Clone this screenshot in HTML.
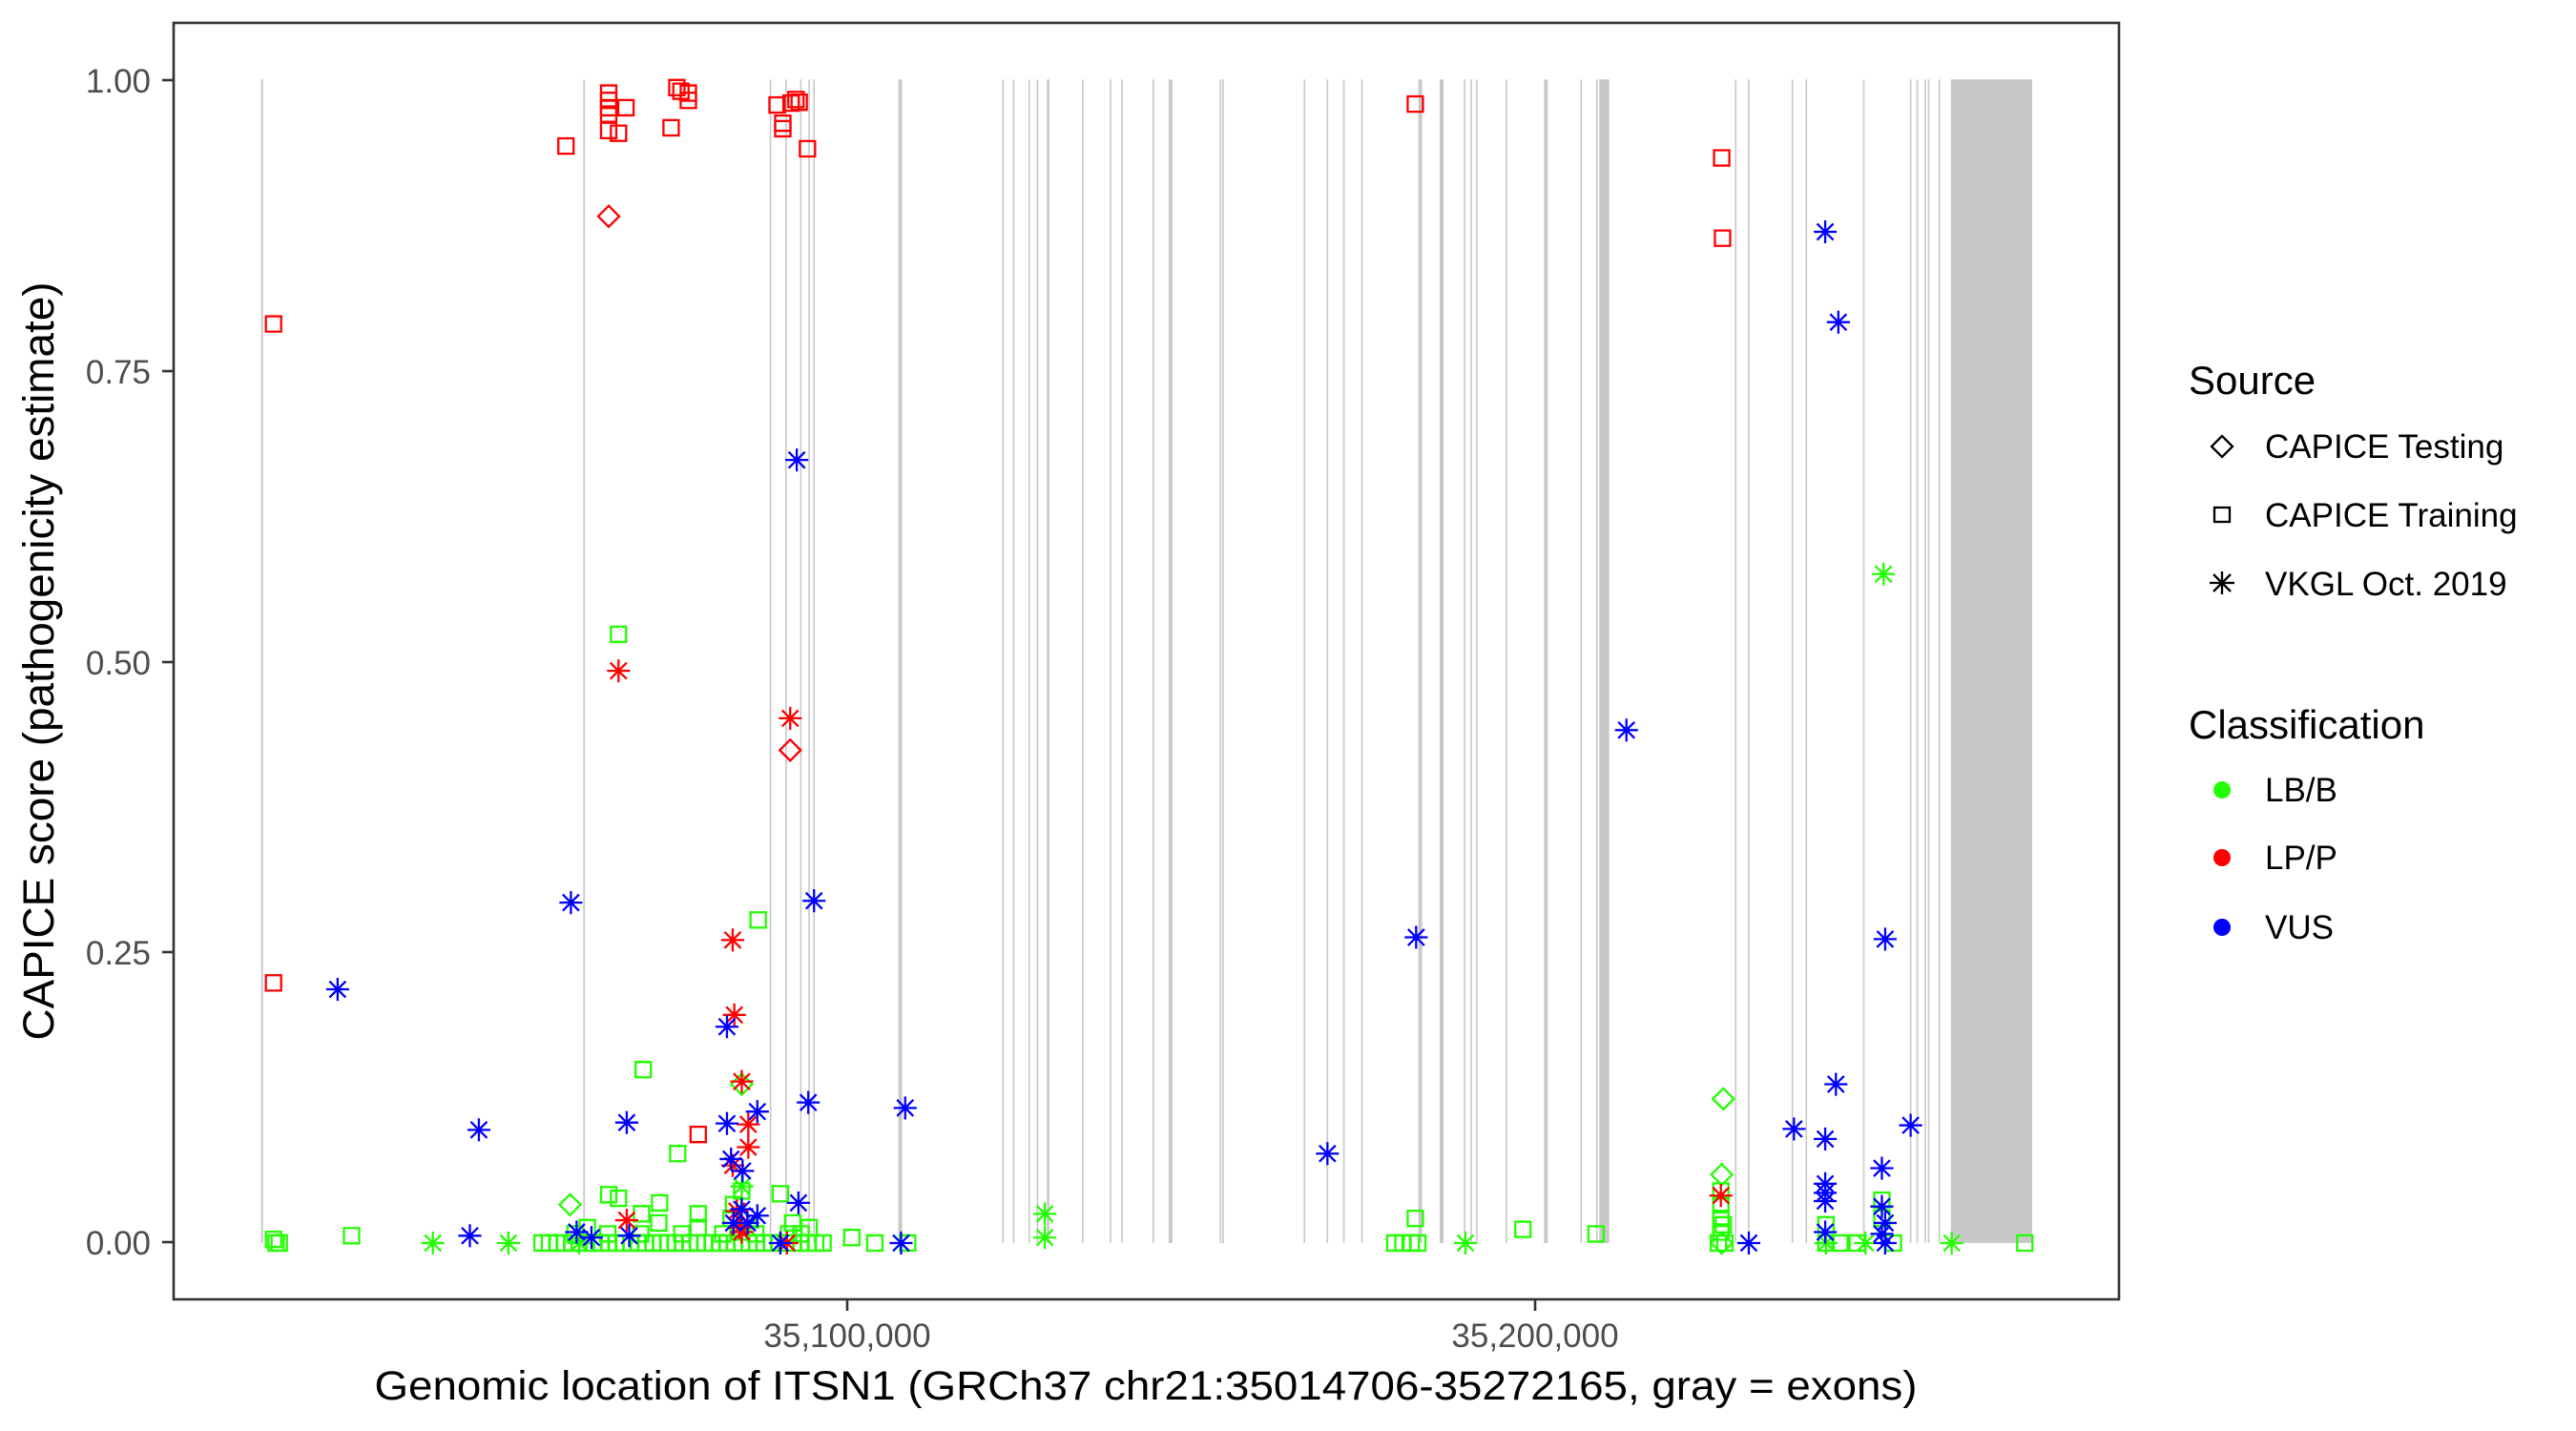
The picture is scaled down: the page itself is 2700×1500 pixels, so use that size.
<!DOCTYPE html>
<html><head><meta charset="utf-8"><style>
html,body{margin:0;padding:0;background:#fff}
svg{display:block}
text{font-family:"Liberation Sans",Arial,sans-serif}
</style></head><body>
<svg width="2700" height="1500" viewBox="0 0 2700 1500" xmlns="http://www.w3.org/2000/svg">
<defs>
<path id="s" d="M-9.3,-8.4h18.6v16.8h-18.6z" vector-effect="non-scaling-stroke"/>
<path id="a" d="M-14,0H14M0,-12.6V12.6M-9.9,-8.9L9.9,8.9M-9.9,8.9L9.9,-8.9" vector-effect="non-scaling-stroke"/>
<path id="d" d="M0,-11.5L12.8,0L0,11.5L-12.8,0Z" vector-effect="non-scaling-stroke"/>
</defs>
<rect width="2700" height="1500" fill="#fff"/>

<g transform="scale(0.86096,0.95666)">
<g stroke="#c8c8c8" stroke-width="1.6">
<line x1="319" y1="87" x2="319" y2="1362" stroke-width="2.2" vector-effect="non-scaling-stroke"/>
<line x1="711" y1="87" x2="711" y2="1362" vector-effect="non-scaling-stroke"/>
<line x1="938" y1="87" x2="938" y2="1362" vector-effect="non-scaling-stroke"/>
<line x1="957" y1="87" x2="957" y2="1362" vector-effect="non-scaling-stroke"/>
<line x1="975" y1="87" x2="975" y2="1362" vector-effect="non-scaling-stroke"/>
<line x1="985" y1="87" x2="985" y2="1362" vector-effect="non-scaling-stroke"/>
<line x1="991" y1="87" x2="991" y2="1362" vector-effect="non-scaling-stroke"/>
<line x1="1096" y1="87" x2="1096" y2="1362" stroke-width="4" vector-effect="non-scaling-stroke"/>
<line x1="1221" y1="87" x2="1221" y2="1362" vector-effect="non-scaling-stroke"/>
<line x1="1234" y1="87" x2="1234" y2="1362" vector-effect="non-scaling-stroke"/>
<line x1="1253" y1="87" x2="1253" y2="1362" vector-effect="non-scaling-stroke"/>
<line x1="1263" y1="87" x2="1263" y2="1362" vector-effect="non-scaling-stroke"/>
<line x1="1276" y1="87" x2="1276" y2="1362" stroke-width="2.6" vector-effect="non-scaling-stroke"/>
<line x1="1318" y1="87" x2="1318" y2="1362" vector-effect="non-scaling-stroke"/>
<line x1="1352" y1="87" x2="1352" y2="1362" vector-effect="non-scaling-stroke"/>
<line x1="1366" y1="87" x2="1366" y2="1362" vector-effect="non-scaling-stroke"/>
<line x1="1404" y1="87" x2="1404" y2="1362" vector-effect="non-scaling-stroke"/>
<line x1="1425" y1="87" x2="1425" y2="1362" stroke-width="4" vector-effect="non-scaling-stroke"/>
<line x1="1486" y1="87" x2="1486" y2="1362" vector-effect="non-scaling-stroke"/>
<line x1="1489" y1="87" x2="1489" y2="1362" vector-effect="non-scaling-stroke"/>
</g>
<g fill="none" stroke-width="2.3">
<g stroke="#22ff00">
<use href="#s" x="333" y="1358"/><use href="#s" x="340" y="1362"/><use href="#s" x="336" y="1362"/>
<use href="#s" x="428" y="1354"/><use href="#s" x="753" y="695"/><use href="#s" x="923" y="1008"/>
<use href="#s" x="783" y="1172"/><use href="#s" x="825" y="1264"/><use href="#s" x="741" y="1309"/>
<use href="#s" x="753" y="1313"/><use href="#s" x="803" y="1318"/><use href="#s" x="850" y="1330"/>
<use href="#s" x="950" y="1308"/><use href="#s" x="900" y="1350"/><use href="#s" x="1037" y="1356"/>
<use href="#s" x="1065" y="1362"/><use href="#s" x="802" y="1340"/><use href="#s" x="850" y="1345"/>
<use href="#s" x="985" y="1345"/><use href="#s" x="1105" y="1362"/><use href="#s" x="715" y="1345"/>
<use href="#s" x="781" y="1330"/><use href="#s" x="893" y="1320"/><use href="#s" x="903" y="1305"/>
<use href="#s" x="965" y="1340"/><use href="#s" x="975" y="1352"/>
<use href="#s" x="660" y="1362"/><use href="#s" x="669" y="1362"/><use href="#s" x="678" y="1362"/><use href="#s" x="687" y="1362"/>
<use href="#s" x="696" y="1362"/><use href="#s" x="705" y="1362"/><use href="#s" x="714" y="1362"/><use href="#s" x="723" y="1362"/>
<use href="#s" x="732" y="1362"/><use href="#s" x="741" y="1362"/><use href="#s" x="750" y="1362"/><use href="#s" x="759" y="1362"/>
<use href="#s" x="768" y="1362"/><use href="#s" x="777" y="1362"/><use href="#s" x="786" y="1362"/><use href="#s" x="795" y="1362"/>
<use href="#s" x="804" y="1362"/><use href="#s" x="813" y="1362"/><use href="#s" x="822" y="1362"/><use href="#s" x="831" y="1362"/>
<use href="#s" x="840" y="1362"/><use href="#s" x="849" y="1362"/><use href="#s" x="858" y="1362"/><use href="#s" x="867" y="1362"/>
<use href="#s" x="876" y="1362"/><use href="#s" x="885" y="1362"/><use href="#s" x="894" y="1362"/><use href="#s" x="903" y="1362"/>
<use href="#s" x="912" y="1362"/><use href="#s" x="921" y="1362"/><use href="#s" x="930" y="1362"/><use href="#s" x="939" y="1362"/>
<use href="#s" x="948" y="1362"/><use href="#s" x="957" y="1362"/><use href="#s" x="966" y="1362"/><use href="#s" x="975" y="1362"/>
<use href="#s" x="984" y="1362"/><use href="#s" x="993" y="1362"/><use href="#s" x="1002" y="1362"/>
<use href="#s" x="700" y="1352"/><use href="#s" x="740" y="1352"/><use href="#s" x="780" y="1352"/><use href="#s" x="830" y="1352"/>
<use href="#s" x="880" y="1352"/><use href="#s" x="920" y="1352"/><use href="#s" x="960" y="1352"/><use href="#s" x="890" y="1335"/>
<use href="#d" x="694" y="1320"/><use href="#d" x="903" y="1188"/>
<use href="#a" x="527" y="1362"/><use href="#a" x="619" y="1362"/><use href="#a" x="1272" y="1330"/><use href="#a" x="1272" y="1356"/>
<use href="#a" x="903" y="1300"/><use href="#a" x="910" y="1345"/><use href="#a" x="705" y="1362"/>
</g>
<g stroke="#ff0000">
<use href="#s" x="333" y="355"/><use href="#s" x="333" y="1077"/><use href="#s" x="689" y="160"/>
<use href="#s" x="741" y="102"/><use href="#s" x="741" y="110"/><use href="#s" x="741" y="118"/><use href="#s" x="741" y="125"/>
<use href="#s" x="741" y="143"/><use href="#s" x="753" y="146"/><use href="#s" x="762" y="118"/><use href="#s" x="817" y="140"/>
<use href="#s" x="824" y="96"/><use href="#s" x="829" y="100"/><use href="#s" x="838" y="102"/><use href="#s" x="838" y="110"/>
<use href="#s" x="946" y="115"/><use href="#s" x="953" y="135"/><use href="#s" x="953" y="141"/><use href="#s" x="963" y="113"/>
<use href="#s" x="969" y="109"/><use href="#s" x="973" y="112"/><use href="#s" x="983" y="163"/><use href="#s" x="850" y="1243"/>
<use href="#d" x="741" y="237"/><use href="#d" x="962" y="822"/>
<use href="#a" x="753" y="735"/><use href="#a" x="962" y="787"/><use href="#a" x="892" y="1030"/><use href="#a" x="894" y="1112"/>
<use href="#a" x="903" y="1185"/><use href="#a" x="911" y="1232"/><use href="#a" x="911" y="1257"/><use href="#a" x="892" y="1277"/>
<use href="#a" x="763" y="1337"/><use href="#a" x="897" y="1327"/><use href="#a" x="903" y="1350"/><use href="#a" x="900" y="1345"/>
<use href="#a" x="958" y="1362"/>
</g>
<g stroke="#0000ff">
<use href="#a" x="411" y="1084"/><use href="#a" x="583" y="1238"/><use href="#a" x="572" y="1354"/><use href="#a" x="695" y="989"/>
<use href="#a" x="763" y="1230"/><use href="#a" x="702" y="1350"/><use href="#a" x="720" y="1356"/><use href="#a" x="766" y="1354"/>
<use href="#a" x="970" y="504"/><use href="#a" x="991" y="987"/><use href="#a" x="885" y="1125"/><use href="#a" x="885" y="1231"/>
<use href="#a" x="890" y="1270"/><use href="#a" x="904" y="1283"/><use href="#a" x="922" y="1218"/><use href="#a" x="984" y="1208"/>
<use href="#a" x="1102" y="1214"/><use href="#a" x="972" y="1318"/><use href="#a" x="922" y="1332"/><use href="#a" x="903" y="1325"/>
<use href="#a" x="950" y="1362"/><use href="#a" x="1097" y="1362"/><use href="#a" x="893" y="1340"/><use href="#a" x="910" y="1340"/>
</g>
</g>
</g>

<g transform="translate(1350,0) scale(0.86096,0.95666)">
<g stroke="#c8c8c8" stroke-width="1.6">
<line x1="20" y1="87" x2="20" y2="1362" vector-effect="non-scaling-stroke"/>
<line x1="48" y1="87" x2="48" y2="1362" vector-effect="non-scaling-stroke"/>
<line x1="68" y1="87" x2="68" y2="1362" vector-effect="non-scaling-stroke"/>
<line x1="90" y1="87" x2="90" y2="1362" vector-effect="non-scaling-stroke"/>
<line x1="161" y1="87" x2="161" y2="1362" stroke-width="4" vector-effect="non-scaling-stroke"/>
<line x1="187" y1="87" x2="187" y2="1362" stroke-width="4" vector-effect="non-scaling-stroke"/>
<line x1="215" y1="87" x2="215" y2="1362" vector-effect="non-scaling-stroke"/>
<line x1="223" y1="87" x2="223" y2="1362" vector-effect="non-scaling-stroke"/>
<line x1="230" y1="87" x2="230" y2="1362" vector-effect="non-scaling-stroke"/>
<line x1="266" y1="87" x2="266" y2="1362" vector-effect="non-scaling-stroke"/>
<line x1="314" y1="87" x2="314" y2="1362" stroke-width="4" vector-effect="non-scaling-stroke"/>
<line x1="357" y1="87" x2="357" y2="1362" vector-effect="non-scaling-stroke"/>
<line x1="376" y1="87" x2="376" y2="1362" vector-effect="non-scaling-stroke"/>
<line x1="545" y1="87" x2="545" y2="1362" vector-effect="non-scaling-stroke"/>
<line x1="561" y1="87" x2="561" y2="1362" vector-effect="non-scaling-stroke"/>
<line x1="614" y1="87" x2="614" y2="1362" vector-effect="non-scaling-stroke"/>
<line x1="631" y1="87" x2="631" y2="1362" vector-effect="non-scaling-stroke"/>
<line x1="701" y1="87" x2="701" y2="1362" vector-effect="non-scaling-stroke"/>
<line x1="758" y1="87" x2="758" y2="1362" vector-effect="non-scaling-stroke"/>
<line x1="766" y1="87" x2="766" y2="1362" vector-effect="non-scaling-stroke"/>
<line x1="776" y1="87" x2="776" y2="1362" vector-effect="non-scaling-stroke"/>
<line x1="780" y1="87" x2="780" y2="1362" vector-effect="non-scaling-stroke"/>
<line x1="793" y1="87" x2="793" y2="1362" vector-effect="non-scaling-stroke"/>
</g>
<rect x="379" y="87" width="12" height="1275" fill="#c8c8c8"/>
<rect x="807" y="87" width="99" height="1275" fill="#c8c8c8"/>
<g fill="none" stroke-width="2.3">
<g stroke="#22ff00">
<use href="#s" x="155" y="1335"/><use href="#s" x="286" y="1347"/><use href="#s" x="375" y="1352"/><use href="#s" x="897" y="1362"/>
<use href="#s" x="655" y="1342"/><use href="#s" x="723" y="1315"/><use href="#s" x="672" y="1362"/><use href="#s" x="693" y="1362"/>
<use href="#s" x="737" y="1362"/><use href="#s" x="130" y="1362"/><use href="#s" x="140" y="1362"/><use href="#s" x="150" y="1362"/>
<use href="#s" x="158" y="1362"/><use href="#s" x="527" y="1305"/><use href="#s" x="527" y="1320"/><use href="#s" x="527" y="1335"/>
<use href="#s" x="527" y="1350"/><use href="#s" x="524" y="1362"/><use href="#s" x="532" y="1362"/><use href="#s" x="655" y="1362"/>
<use href="#s" x="723" y="1335"/><use href="#s" x="530" y="1342"/>
<use href="#d" x="530" y="1204"/><use href="#d" x="528" y="1287"/><use href="#d" x="528" y="1362"/>
<use href="#a" x="216" y="1362"/><use href="#a" x="808" y="1362"/><use href="#a" x="725" y="629"/><use href="#a" x="703" y="1362"/><use href="#a" x="655" y="1362"/>
</g>
<g stroke="#ff0000">
<use href="#s" x="155" y="114"/><use href="#s" x="528" y="173"/><use href="#s" x="529" y="261"/>
<use href="#a" x="527" y="1310"/>
</g>
<g stroke="#0000ff">
<use href="#a" x="48" y="1264"/><use href="#a" x="156" y="1027"/><use href="#a" x="412" y="800"/><use href="#a" x="654" y="254"/>
<use href="#a" x="670" y="353"/><use href="#a" x="727" y="1029"/><use href="#a" x="667" y="1188"/><use href="#a" x="616" y="1237"/>
<use href="#a" x="654" y="1248"/><use href="#a" x="758" y="1233"/><use href="#a" x="723" y="1280"/><use href="#a" x="654" y="1297"/>
<use href="#a" x="654" y="1307"/><use href="#a" x="654" y="1316"/><use href="#a" x="723" y="1322"/><use href="#a" x="727" y="1340"/>
<use href="#a" x="561" y="1362"/><use href="#a" x="727" y="1362"/><use href="#a" x="723" y="1352"/><use href="#a" x="654" y="1350"/>
</g>
</g>
</g>

<rect x="182" y="24" width="2039" height="1338" fill="none" stroke="#333" stroke-width="2.6"/>
<g stroke="#333" stroke-width="2.6">
<line x1="170" y1="84" x2="182" y2="84"/><line x1="170" y1="389" x2="182" y2="389"/>
<line x1="170" y1="694" x2="182" y2="694"/><line x1="170" y1="998" x2="182" y2="998"/>
<line x1="170" y1="1302" x2="182" y2="1302"/>
<line x1="888" y1="1362" x2="888" y2="1374"/><line x1="1609" y1="1362" x2="1609" y2="1374"/>
</g>
<g fill="#4d4d4d" font-size="35" text-anchor="end">
<text x="158" y="97">1.00</text><text x="158" y="402">0.75</text><text x="158" y="707">0.50</text>
<text x="158" y="1011">0.25</text><text x="158" y="1315">0.00</text>
</g>
<g fill="#4d4d4d" font-size="35" text-anchor="middle">
<text x="888" y="1412">35,100,000</text><text x="1609" y="1412">35,200,000</text>
</g>
<text x="1201" y="1467" font-size="43" text-anchor="middle" textLength="1617" lengthAdjust="spacingAndGlyphs">Genomic location of ITSN1 (GRCh37 chr21:35014706-35272165, gray = exons)</text>
<text transform="translate(56,693) rotate(-90)" font-size="45" text-anchor="middle" textLength="795" lengthAdjust="spacingAndGlyphs">CAPICE score (pathogenicity estimate)</text>

<text x="2294" y="413" font-size="42">Source</text>
<g fill="none" stroke="#000" stroke-width="2.3">
<path d="M2329,457L2340,468L2329,479L2318,468Z"/>
<rect x="2321" y="532" width="16" height="15"/>
<path d="M2316,611H2342M2329,599V623M2320,602L2338,620M2320,620L2338,602"/>
</g>
<g font-size="35">
<text x="2374" y="480">CAPICE Testing</text>
<text x="2374" y="552">CAPICE Training</text>
<text x="2374" y="624">VKGL Oct. 2019</text>
</g>
<text x="2294" y="774" font-size="42">Classification</text>
<circle cx="2329" cy="828" r="9" fill="#22ff00"/>
<circle cx="2329" cy="899" r="9" fill="#ff0000"/>
<circle cx="2329" cy="972" r="9" fill="#0000ff"/>
<g font-size="35">
<text x="2374" y="840">LB/B</text>
<text x="2374" y="911">LP/P</text>
<text x="2374" y="984">VUS</text>
</g>
</svg>
</body></html>
